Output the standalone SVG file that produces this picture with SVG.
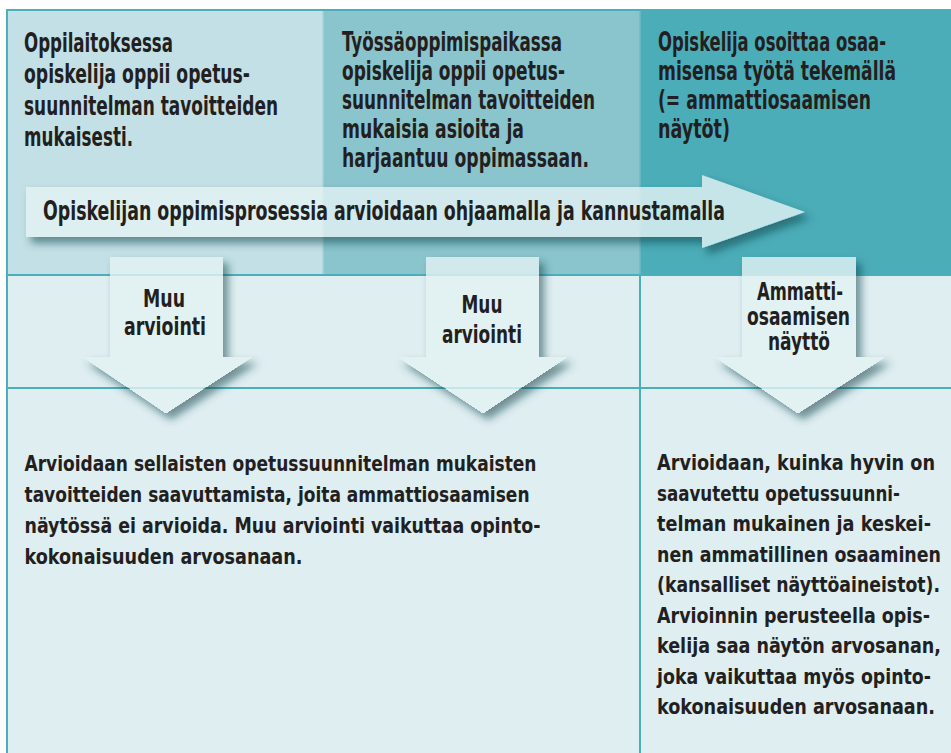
<svg xmlns="http://www.w3.org/2000/svg" width="951" height="753" viewBox="0 0 951 753">
  <defs>
    <style>
      .t { font-family: "DejaVu Sans Condensed", "DejaVu Sans", sans-serif; font-weight: bold; fill: #231f20; }
      .top { font-size: 26px; }
      .big { font-size: 26px; }
      .lbl { font-size: 25px; text-anchor: middle; }
      .body { font-size: 22px; }
      .grid { stroke: #4aafba; stroke-width: 2; fill: none; }
      .blk { fill: #e4f2f4; fill-opacity: 0.8; filter: url(#sh); }
    </style>
    <filter id="sh" x="-20%" y="-30%" width="150%" height="180%">
      <feComponentTransfer in="SourceAlpha" result="a">
        <feFuncA type="linear" slope="20"/>
      </feComponentTransfer>
      <feGaussianBlur in="a" stdDeviation="4"/>
      <feOffset dx="5" dy="6" result="b"/>
      <feFlood flood-color="#0f3d45" flood-opacity="0.55"/>
      <feComposite in2="b" operator="in"/>
      <feComposite in2="a" operator="out" result="s"/>
      <feMerge>
        <feMergeNode in="s"/>
        <feMergeNode in="SourceGraphic"/>
      </feMerge>
    </filter>
  </defs>

  <rect x="0" y="0" width="951" height="753" fill="#ffffff"/>

  <g id="background">
    <rect x="7" y="10" width="316" height="265" fill="#c2e0e5"/>
    <rect x="323" y="10" width="317" height="265" fill="#8ac4cc"/>
    <rect x="640" y="10" width="311" height="265" fill="#4badb8"/>
    <rect x="7" y="275" width="944" height="478" fill="#deeef1"/>
  </g>

  <g id="grid">
    <line class="grid" x1="6" y1="10" x2="951" y2="10"/>
    <line class="grid" x1="7" y1="9" x2="7" y2="753"/>
    <line class="grid" x1="7" y1="275" x2="951" y2="275"/>
    <line class="grid" x1="7" y1="388" x2="951" y2="388"/>
    <line class="grid" x1="640" y1="275" x2="640" y2="753"/>
    <line x1="323" y1="11" x2="323" y2="274" stroke="#a9d3da" stroke-width="1.5"/>
    <line x1="640" y1="11" x2="640" y2="274" stroke="#6fb9c3" stroke-width="1.5"/>
  </g>

  <g id="cell-oppilaitos">
    <text class="t top" x="24" y="52" textLength="149" lengthAdjust="spacingAndGlyphs">Oppilaitoksessa</text>
    <text class="t top" x="24" y="83" textLength="226" lengthAdjust="spacingAndGlyphs">opiskelija oppii opetus-</text>
    <text class="t top" x="24" y="115" textLength="254" lengthAdjust="spacingAndGlyphs">suunnitelman tavoitteiden</text>
    <text class="t top" x="24" y="146" textLength="109" lengthAdjust="spacingAndGlyphs">mukaisesti.</text>
  </g>

  <g id="cell-tyossaoppimispaikka">
    <text class="t top" x="342" y="51" textLength="220" lengthAdjust="spacingAndGlyphs">Työssäoppimispaikassa</text>
    <text class="t top" x="342" y="80" textLength="223" lengthAdjust="spacingAndGlyphs">opiskelija oppii opetus-</text>
    <text class="t top" x="342" y="109" textLength="253" lengthAdjust="spacingAndGlyphs">suunnitelman tavoitteiden</text>
    <text class="t top" x="342" y="138" textLength="182" lengthAdjust="spacingAndGlyphs">mukaisia asioita ja</text>
    <text class="t top" x="342" y="167" textLength="247" lengthAdjust="spacingAndGlyphs">harjaantuu oppimassaan.</text>
  </g>

  <g id="cell-naytot">
    <text class="t top" x="658" y="51" textLength="228" lengthAdjust="spacingAndGlyphs">Opiskelija osoittaa osaa-</text>
    <text class="t top" x="658" y="80" textLength="238" lengthAdjust="spacingAndGlyphs">misensa työtä tekemällä</text>
    <text class="t top" x="658" y="109" textLength="213" lengthAdjust="spacingAndGlyphs">(= ammattiosaamisen</text>
    <text class="t top" x="658" y="138" textLength="72" lengthAdjust="spacingAndGlyphs">näytöt)</text>
  </g>

  <g id="process-arrow">
    <polygon class="blk" points="26,187 702,187 702,175 805,212 702,248 702,237 26,237"/>
    <text class="t big" x="43" y="220" textLength="682" lengthAdjust="spacingAndGlyphs">Opiskelijan oppimisprosessia arvioidaan ohjaamalla ja kannustamalla</text>
  </g>

  <g id="connectors">
    <g id="arrow-muu-arviointi-1">
      <polygon class="blk" points="110,257 223,257 223,357 252,357 166,413 83,357 110,357"/>
      <text class="t lbl" x="164" y="307" textLength="42" lengthAdjust="spacingAndGlyphs">Muu</text>
      <text class="t lbl" x="165" y="335" textLength="82" lengthAdjust="spacingAndGlyphs">arviointi</text>
    </g>
    <g id="arrow-muu-arviointi-2">
      <polygon class="blk" points="426,257 539,257 539,357 567,357 483,413 398,357 426,357"/>
      <text class="t lbl" x="482" y="313" textLength="41" lengthAdjust="spacingAndGlyphs">Muu</text>
      <text class="t lbl" x="482" y="343" textLength="80" lengthAdjust="spacingAndGlyphs">arviointi</text>
    </g>
    <g id="arrow-naytto">
      <polygon class="blk" points="742,257 856,257 856,357 885,357 798,413 715,357 742,357"/>
      <text class="t lbl" x="800" y="300" textLength="86" lengthAdjust="spacingAndGlyphs">Ammatti-</text>
      <text class="t lbl" x="798.5" y="325" textLength="103" lengthAdjust="spacingAndGlyphs">osaamisen</text>
      <text class="t lbl" x="799" y="350" textLength="62" lengthAdjust="spacingAndGlyphs">näyttö</text>
    </g>
  </g>

  <g id="cell-muu-arviointi">
    <text class="t body" x="24.5" y="471" textLength="512" lengthAdjust="spacingAndGlyphs">Arvioidaan sellaisten opetussuunnitelman mukaisten</text>
    <text class="t body" x="24.5" y="502" textLength="505" lengthAdjust="spacingAndGlyphs">tavoitteiden saavuttamista, joita ammattiosaamisen</text>
    <text class="t body" x="24.5" y="533" textLength="516" lengthAdjust="spacingAndGlyphs">näytössä ei arvioida. Muu arviointi vaikuttaa opinto-</text>
    <text class="t body" x="24.5" y="564" textLength="278" lengthAdjust="spacingAndGlyphs">kokonaisuuden arvosanaan.</text>
  </g>

  <g id="cell-naytto-arviointi">
    <text class="t body" x="657" y="470" textLength="278" lengthAdjust="spacingAndGlyphs">Arvioidaan, kuinka hyvin on</text>
    <text class="t body" x="657" y="500.5" textLength="243" lengthAdjust="spacingAndGlyphs">saavutettu opetussuunni-</text>
    <text class="t body" x="657" y="531" textLength="274" lengthAdjust="spacingAndGlyphs">telman mukainen ja keskei-</text>
    <text class="t body" x="657" y="561.5" textLength="284" lengthAdjust="spacingAndGlyphs">nen ammatillinen osaaminen</text>
    <text class="t body" x="657" y="592" textLength="283" lengthAdjust="spacingAndGlyphs">(kansalliset näyttöaineistot).</text>
    <text class="t body" x="657" y="622.5" textLength="273" lengthAdjust="spacingAndGlyphs">Arvioinnin perusteella opis-</text>
    <text class="t body" x="657" y="653" textLength="284" lengthAdjust="spacingAndGlyphs">kelija saa näytön arvosanan,</text>
    <text class="t body" x="657" y="683.5" textLength="274" lengthAdjust="spacingAndGlyphs">joka vaikuttaa myös opinto-</text>
    <text class="t body" x="657" y="714" textLength="278" lengthAdjust="spacingAndGlyphs">kokonaisuuden arvosanaan.</text>
  </g>
</svg>
